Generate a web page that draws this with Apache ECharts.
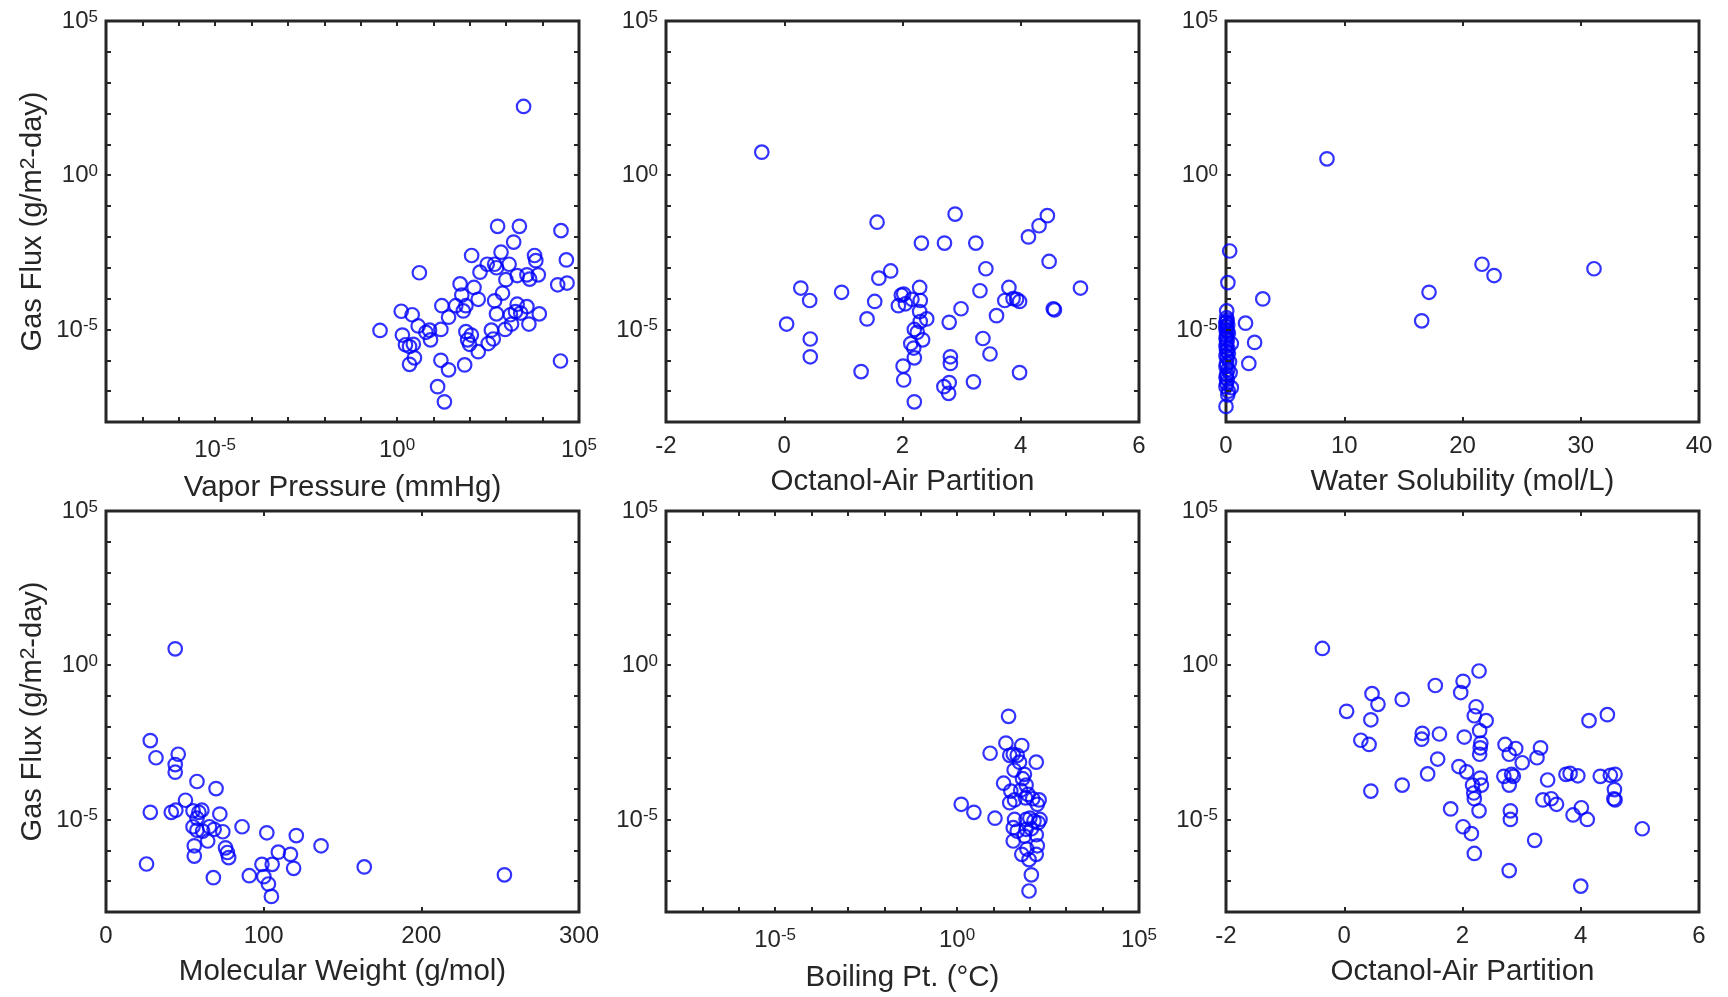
<!DOCTYPE html>
<html><head><meta charset="utf-8">
<script src="https://cdn.jsdelivr.net/npm/echarts@6/dist/echarts.min.js"></script>
<style>html,body{margin:0;padding:0;background:#fff;}#c{width:1728px;height:997px;}</style>
</head><body><div id="c"></div>
<script>
// ---- data: [x, gas flux (g/m2-day)] ----
const vaporPressurePts = [[3000,170],[0.34,9.3e-6],[1.3,3.9e-5],[1.4,6.6e-6],[2.6,3.0e-5],[3.8,1.3e-5],[4.1,6.9e-4],[1.7,3.2e-6],[2.2,2.8e-6],[2.8,3.3e-6],[3.0,1.2e-6],[2.2,7.4e-7],[6.2,8.1e-6],[7.8,9.5e-6],[8.3,4.6e-6],[16,1.0e-5],[17,5.9e-5],[16,1.0e-6],[26,4.9e-7],[13,1.4e-7],[20,4.5e-8],[26,2.5e-5],[41,5.9e-5],[54,3.0e-4],[60,1.3e-4],[66,4.0e-5],[78,5.9e-5],[78,8.5e-6],[87,4.6e-6],[110,6.6e-6],[98,3.3e-6],[72,7.1e-7],[112,2.5e-3],[130,2.3e-4],[170,9.5e-5],[190,7.2e-4],[170,1.9e-6],[300,1.3e-3],[320,3.5e-6],[390,9.5e-6],[440,4.9e-6],[480,1.3e-3],[540,1.0e-3],[480,8.5e-5],[540,3.2e-5],[580,2.2e-2],[720,3.2e-3],[790,1.5e-4],[980,4.1e-4],[1200,1.3e-3],[1300,3.0e-5],[1400,1.5e-5],[930,1.0e-5],[1600,6.8e-3],[1800,3.8e-5],[2000,5.6e-4],[2000,6.6e-5],[2300,2.2e-2],[2500,3.4e-5],[3700,5.9e-4],[4400,4.3e-4],[3700,5.5e-5],[4200,1.5e-5],[6000,2.5e-3],[6500,1.7e-3],[7600,5.9e-4],[8100,3.2e-5],[32000,1.6e-2],[26000,2.8e-4],[45000,1.8e-3],[47000,3.2e-4],[31000,9.5e-7]];

const octanolAirPtsA = [[-0.38,5.6],[0.04,1.5e-5],[0.28,2.2e-4],[0.43,8.7e-5],[0.44,4.9e-6],[0.44,1.3e-6],[0.97,1.6e-4],[1.30,4.3e-7],[1.40,2.2e-5],[1.53,8.1e-5],[1.57,3.0e-2],[1.60,4.6e-4],[1.80,7.9e-4],[1.93,5.9e-5],[1.98,1.3e-4],[2.02,1.4e-4],[2.05,6.8e-5],[2.01,6.5e-7],[2.02,2.3e-7],[2.16,9.5e-5],[2.20,1.0e-5],[2.19,2.5e-6],[2.20,1.2e-6],[2.20,4.5e-8],[2.14,3.5e-6],[2.25,8.1e-6],[2.29,2.3e-4],[2.30,8.7e-5],[2.29,3.8e-5],[2.30,1.8e-5],[2.34,4.6e-6],[2.32,6.3e-3],[2.41,2.2e-5],[2.71,6.3e-3],[2.70,1.4e-7],[2.79,1.7e-5],[2.81,1.3e-6],[2.81,7.9e-7],[2.79,1.9e-7],[2.78,8.5e-8],[2.89,5.5e-2],[2.99,4.7e-5],[3.20,2.0e-7],[3.24,6.3e-3],[3.31,1.8e-4],[3.36,5.1e-6],[3.41,9.3e-4],[3.48,1.6e-6],[3.59,2.8e-5],[3.73,8.7e-5],[3.80,2.3e-4],[3.87,1.0e-4],[3.93,9.5e-5],[3.98,8.1e-5],[3.98,4.0e-7],[4.13,1.0e-2],[4.31,2.3e-2],[4.45,4.9e-2],[4.48,1.6e-3],[4.55,4.7e-5],[4.57,4.3e-5],[5.01,2.2e-4]];

const waterSolubilityPts = [[8.54,3.4],[0.31,3.5e-3],[0.16,3.3e-4],[0.06,4.0e-5],[0.02,1.7e-5],[0.0,1.3e-5],[1.65,1.6e-5],[3.11,9.8e-5],[2.42,3.8e-6],[1.93,7.9e-7],[16.55,1.9e-5],[17.17,1.6e-4],[21.65,1.3e-3],[22.67,5.6e-4],[31.12,9.3e-4],[0.05,2.4e-5],[0.1,2.0e-5],[0.0,1.7e-5],[0.15,1.4e-5],[0.05,1.2e-5],[0.0,1.0e-5],[0.1,8.9e-6],[0.2,7.6e-6],[0.05,6.3e-6],[0.0,5.2e-6],[0.1,4.5e-6],[0.45,3.5e-6],[0.05,3.5e-6],[0.0,2.8e-6],[0.15,2.4e-6],[0.05,2.0e-6],[0.2,1.7e-6],[0.0,1.4e-6],[0.1,1.2e-6],[0.3,8.9e-7],[0.05,7.9e-7],[0.0,6.3e-7],[0.15,5.0e-7],[0.35,4.0e-7],[0.05,3.5e-7],[0.0,2.8e-7],[0.1,2.4e-7],[0.05,1.8e-7],[0.0,1.4e-7],[0.45,1.3e-7],[0.2,1.0e-7],[0.15,7.6e-8],[0.0,3.2e-8]];

const molWeightPts = [[43.9,3.4],[28.1,3.6e-3],[31.7,1.0e-3],[45.8,1.3e-3],[43.9,6.0e-4],[43.9,3.4e-4],[28.1,1.7e-5],[41.4,1.7e-5],[44.3,2.0e-5],[50.4,4.2e-5],[57.7,1.7e-4],[69.8,1.0e-4],[55.2,1.9e-5],[58.9,1.7e-5],[60.8,2.0e-5],[57.7,1.1e-5],[72.2,1.5e-5],[55.2,5.8e-6],[57.7,4.5e-6],[61.3,4.2e-6],[65.6,5.8e-6],[68.6,4.8e-6],[74.1,4.0e-6],[64.5,2.0e-6],[56.0,1.4e-6],[56.0,6.5e-7],[75.8,1.2e-6],[77.0,8.5e-7],[77.8,5.8e-7],[86.3,5.8e-6],[102.0,3.7e-6],[25.7,3.6e-7],[68.1,1.3e-7],[90.9,1.5e-7],[98.9,3.5e-7],[100.1,1.4e-7],[103.0,8.1e-8],[104.9,3.2e-8],[105.4,3.5e-7],[109.3,8.7e-7],[117.0,7.4e-7],[119.0,2.6e-7],[120.7,3.0e-6],[136.4,1.4e-6],[163.8,2.9e-7],[252.7,1.6e-7]];

const boilingPtPts = [[26,2.2e-2],[22,3.0e-3],[60,2.5e-3],[8.1,1.4e-3],[28,1.2e-3],[35,1.3e-3],[45,1.2e-3],[52,7.2e-4],[150,7.2e-4],[37,4.0e-4],[71,2.9e-4],[63,2.1e-4],[19,1.5e-4],[79,1.3e-4],[30,8.3e-5],[56,8.9e-5],[89,6.5e-5],[76,5.0e-5],[38,4.3e-5],[28,3.5e-5],[120,4.7e-5],[180,4.3e-5],[160,3.1e-5],[1.3,3.1e-5],[2.9,1.7e-5],[11,1.1e-5],[38,1.0e-5],[79,1.0e-5],[100,1.1e-5],[130,8.9e-6],[190,1.0e-5],[170,7.8e-6],[35,5.4e-6],[45,4.2e-6],[79,4.8e-6],[110,5.0e-6],[150,3.2e-6],[71,2.9e-6],[35,2.0e-6],[160,1.4e-6],[83,1.1e-6],[60,7.4e-7],[150,7.4e-7],[95,5.0e-7],[110,1.6e-7],[95,4.8e-8]];

const octanolAirPtsB = [[-0.37,3.5],[2.28,0.65],[2.01,0.30],[1.54,0.22],[1.97,0.13],[0.47,0.12],[0.57,5.4e-2],[0.98,7.8e-2],[0.04,3.2e-2],[0.45,1.7e-2],[2.23,4.5e-2],[2.20,2.3e-2],[2.40,1.6e-2],[4.45,2.5e-2],[4.14,1.6e-2],[1.32,6.2e-3],[1.31,4.0e-3],[1.61,5.9e-3],[2.03,4.7e-3],[2.29,7.6e-3],[2.31,3.0e-3],[2.30,2.1e-3],[2.29,1.3e-3],[0.28,3.7e-3],[0.42,2.7e-3],[2.72,2.7e-3],[2.90,2.0e-3],[2.79,1.3e-3],[3.32,2.1e-3],[3.26,1.0e-3],[3.01,6.9e-4],[1.58,9.1e-4],[1.94,5.2e-4],[2.07,3.5e-4],[1.41,3.0e-4],[2.30,2.2e-4],[2.70,2.5e-4],[2.83,2.9e-4],[2.86,2.5e-4],[3.44,1.9e-4],[3.75,2.9e-4],[3.82,3.1e-4],[3.95,2.6e-4],[4.33,2.5e-4],[4.50,2.7e-4],[4.58,2.9e-4],[2.17,1.3e-4],[2.32,1.3e-4],[2.79,1.3e-4],[0.98,1.3e-4],[0.45,8.3e-5],[2.19,7.2e-5],[2.20,4.7e-5],[4.57,9.3e-5],[4.56,4.7e-5],[4.58,4.3e-5],[3.36,4.3e-5],[3.50,4.7e-5],[3.59,3.1e-5],[1.80,2.2e-5],[2.28,1.9e-5],[2.81,1.9e-5],[2.81,1.0e-5],[3.87,1.4e-5],[4.01,2.4e-5],[4.11,1.0e-5],[2.01,5.8e-6],[2.15,3.5e-6],[3.22,2.1e-6],[5.04,5.0e-6],[2.20,7.9e-7],[2.79,2.2e-7],[4.00,6.9e-8]];

const xNames = ['Vapor Pressure (mmHg)', 'Octanol-Air Partition', 'Water Solubility (mol/L)', 'Molecular Weight (g/mol)', 'Boiling Pt. (\u00B0C)', 'Octanol-Air Partition'];
const yName = '{n|Gas Flux (g/m}{p|2}{n|-day)}';
const logRange = [1e-8, 1e5];
const logTickValues = [1e-8, 1e-7, 1e-6, 1e-5, 1e-4, 1e-3, 1e-2, 1e-1, 1, 10, 100, 1e3, 1e4, 1e5];
const logLabelValues = [1e-5, 1, 1e5];
const linearRanges = { 1: [-2, 6, 2], 2: [0, 40, 10], 3: [0, 300, 100], 5: [-2, 6, 2] };
const panelData = [vaporPressurePts, octanolAirPtsA, waterSolubilityPts, molWeightPts, boilingPtPts, octanolAirPtsB];
const logX = [true, false, false, false, true, false];

// ---- styling / layout ----
const FONT = '"Liberation Sans", Arial, Helvetica, sans-serif';
const TXT = '#262626';
const lefts = [106, 666, 1226];
const tops = [21, 511];
const W = 473, H = 401;

function logLabel(v) {
  const e = Math.round(Math.log10(v));
  return '{b|10}{s|' + e + '}';
}
const supRich = {
  b: { fontSize: 24, fontFamily: FONT, color: TXT, verticalAlign: 'bottom', lineHeight: 25 },
  s: { fontSize: 17, fontFamily: FONT, color: TXT, verticalAlign: 'top', lineHeight: 17, padding: [0, 0, 12, 0] }
};
const linTick = { show: true, inside: true, length: 5, lineStyle: { color: TXT, width: 2 } };
const logTick = { show: true, inside: true, length: 5, lineStyle: { color: TXT, width: 2 }, customValues: logTickValues };

const grid = [], xAxis = [], yAxis = [], series = [];
for (let i = 0; i < 6; i++) {
  const col = i % 3, row = Math.floor(i / 3);
  grid.push({ left: lefts[col], top: tops[row], width: W, height: H, show: true, borderColor: TXT, borderWidth: 3, backgroundColor: 'transparent' });
  for (let m = 0; m < 2; m++) {
    const mirror = m === 1;
    const xa = {
      gridIndex: i, position: mirror ? 'top' : 'bottom',
      axisLine: { show: false, onZero: false }, splitLine: { show: false },
      axisLabel: { show: !mirror, margin: 12, fontSize: 24, fontFamily: FONT, color: TXT },
      z: 5
    };
    if (logX[i]) {
      Object.assign(xa, { type: 'log', logBase: 10, min: logRange[0], max: logRange[1], splitNumber: 13, axisTick: logTick });
      Object.assign(xa.axisLabel, { formatter: logLabel, rich: supRich, customValues: logLabelValues, margin: 15 });
    } else {
      const r = linearRanges[i];
      Object.assign(xa, { type: 'value', min: r[0], max: r[1], interval: r[2], axisTick: linTick });
    }
    if (!mirror) {
      Object.assign(xa, { name: xNames[i], nameLocation: 'middle', nameGap: logX[i] ? 51 : 45,
        nameTextStyle: { fontSize: 29.5, fontFamily: FONT, color: TXT } });
    }
    xAxis.push(xa);
    const ya = {
      gridIndex: i, position: mirror ? 'right' : 'left', type: 'log', logBase: 10,
      min: logRange[0], max: logRange[1], splitNumber: 13,
      axisLine: { show: false, onZero: false }, splitLine: { show: false }, axisTick: logTick,
      axisLabel: { show: !mirror, margin: 8, formatter: logLabel, rich: supRich, customValues: logLabelValues,
        fontSize: 24, fontFamily: FONT, color: TXT },
      z: 5
    };
    if (!mirror && col === 0) {
      Object.assign(ya, { name: yName, nameLocation: 'middle', nameGap: 56,
        nameTextStyle: { fontSize: 29, fontFamily: FONT, color: TXT, rich: {
          n: { fontSize: 29, fontFamily: FONT, color: TXT, verticalAlign: 'bottom', lineHeight: 30 },
          p: { fontSize: 21, fontFamily: FONT, color: TXT, verticalAlign: 'top', lineHeight: 21, padding: [0, 0, 14, 0] } } } });
    }
    yAxis.push(ya);
  }
  series.push({
    type: 'scatter', xAxisIndex: 2 * i, yAxisIndex: 2 * i, data: panelData[i],
    symbol: 'circle', symbolSize: 13.5, silent: true,
    itemStyle: { color: 'rgba(0,0,0,0)', borderColor: '#0000FF', borderWidth: 2.2 }
  });
}

const chart = echarts.init(document.getElementById('c'), null, { renderer: 'canvas' });
chart.setOption({ animation: false, backgroundColor: '#ffffff', grid, xAxis, yAxis, series });
</script>
</body></html>
